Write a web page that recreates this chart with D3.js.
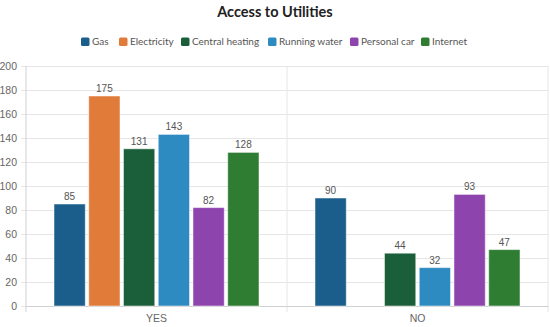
<!DOCTYPE html>
<html>
<head>
<meta charset="utf-8">
<script src="https://cdn.jsdelivr.net/npm/d3@7"></script>
<style>
  body { margin: 0; background: #fff; }
  svg { display: block; }
  .tick text { font-family: "Liberation Sans", Arial, sans-serif; font-size: 10.5px; fill: #666; }
</style>
</head>
<body>
<svg width="550" height="327"></svg>
<script>
var width = 550;
var height = 327;

var categories = ["YES", "NO"];
var series = ["Gas", "Electricity", "Central heating", "Running water", "Personal car", "Internet"];
var colors = ["#1b5e8c", "#e07b39", "#1b5e3a", "#2e8bc2", "#8e44ad", "#2e7d32"];
var valuesYes = [85, 175, 131, 143, 82, 128];
var valuesNo = [90, null, 44, 32, 93, 47];
var yTicks = [0, 20, 40, 60, 80, 100, 120, 140, 160, 180, 200];

var rows = [valuesYes, valuesNo];
var margin = {top: 66, right: 2, bottom: 21, left: 26};

var svg = d3.select("svg");

var x0 = d3.scaleBand().domain(categories).range([margin.left, width - margin.right]);
var x1 = d3.scaleBand().domain(series)
    .range([28, 233]).paddingInner(0.1).paddingOuter(0);
var y = d3.scaleLinear().domain([0, 200]).range([height - margin.bottom, margin.top]);
var color = d3.scaleOrdinal(series, colors);

// title
svg.append("text")
    .attr("x", width / 2).attr("y", 17)
    .attr("text-anchor", "middle")
    .style("font-family", "Lato, sans-serif")
    .style("font-weight", "bold")
    .style("font-size", "14.5px")
    .style("fill", "#222")
    .text("Access to Utilities");

// legend
var legendX = [81, 119, 181, 268, 350, 421];
var legend = svg.append("g").selectAll("g")
    .data(series)
    .join("g")
    .attr("transform", (d, i) => "translate(" + legendX[i] + ",42)");
legend.append("rect")
    .attr("x", 0).attr("y", -4.5)
    .attr("width", 8.5).attr("height", 8.5)
    .attr("rx", 1.5)
    .attr("fill", d => color(d));
legend.append("text")
    .attr("x", 11).attr("dy", "0.32em")
    .style("font-family", "Lato, sans-serif")
    .style("font-size", "10px")
    .style("fill", "#555")
    .text(d => d);

// y grid + axis
var yAxis = svg.append("g")
    .attr("transform", "translate(" + margin.left + ",0)")
    .call(d3.axisLeft(y).tickValues(yTicks).tickSize(-(width - margin.left - margin.right)).tickPadding(9));
yAxis.select(".domain").remove();
yAxis.selectAll(".tick line").attr("stroke", "#e6e6e6").attr("x1", -5);

// category separators
svg.append("g").selectAll("line")
    .data(categories.concat([null]))
    .join("line")
    .attr("x1", (d, i) => margin.left + i * x0.bandwidth())
    .attr("x2", (d, i) => margin.left + i * x0.bandwidth())
    .attr("y1", margin.top)
    .attr("y2", height - margin.bottom + 6)
    .attr("stroke", (d, i) => i == 0 ? "#d0d0d0" : "#e6e6e6");

// x axis
var xAxis = svg.append("g")
    .attr("transform", "translate(0," + (height - margin.bottom) + ")")
    .call(d3.axisBottom(x0).tickSize(0).tickPadding(9));
xAxis.select(".domain").attr("stroke", "#d0d0d0");

// bars
var groups = svg.append("g").selectAll("g")
    .data(rows)
    .join("g")
    .attr("transform", (d, i) => "translate(" + x0(categories[i]) + ",0)");

var items = groups.selectAll("g")
    .data(d => d.map((v, j) => ({key: series[j], value: v})).filter(e => e.value != null))
    .join("g");

items.append("rect")
    .attr("x", d => x1(d.key))
    .attr("y", d => y(d.value))
    .attr("width", x1.bandwidth())
    .attr("height", d => y(0) - y(d.value))
    .attr("fill", d => color(d.key))
    .attr("stroke", "#fff")
    .attr("stroke-opacity", 0.5)
    .attr("stroke-width", 1);

items.append("text")
    .attr("x", d => x1(d.key) + x1.bandwidth() / 2)
    .attr("y", d => y(d.value) - 4)
    .attr("text-anchor", "middle")
    .style("font-family", "'Liberation Sans', Arial, sans-serif")
    .style("font-size", "10px")
    .style("fill", "#555")
    .text(d => d.value);
</script>
</body>
</html>
